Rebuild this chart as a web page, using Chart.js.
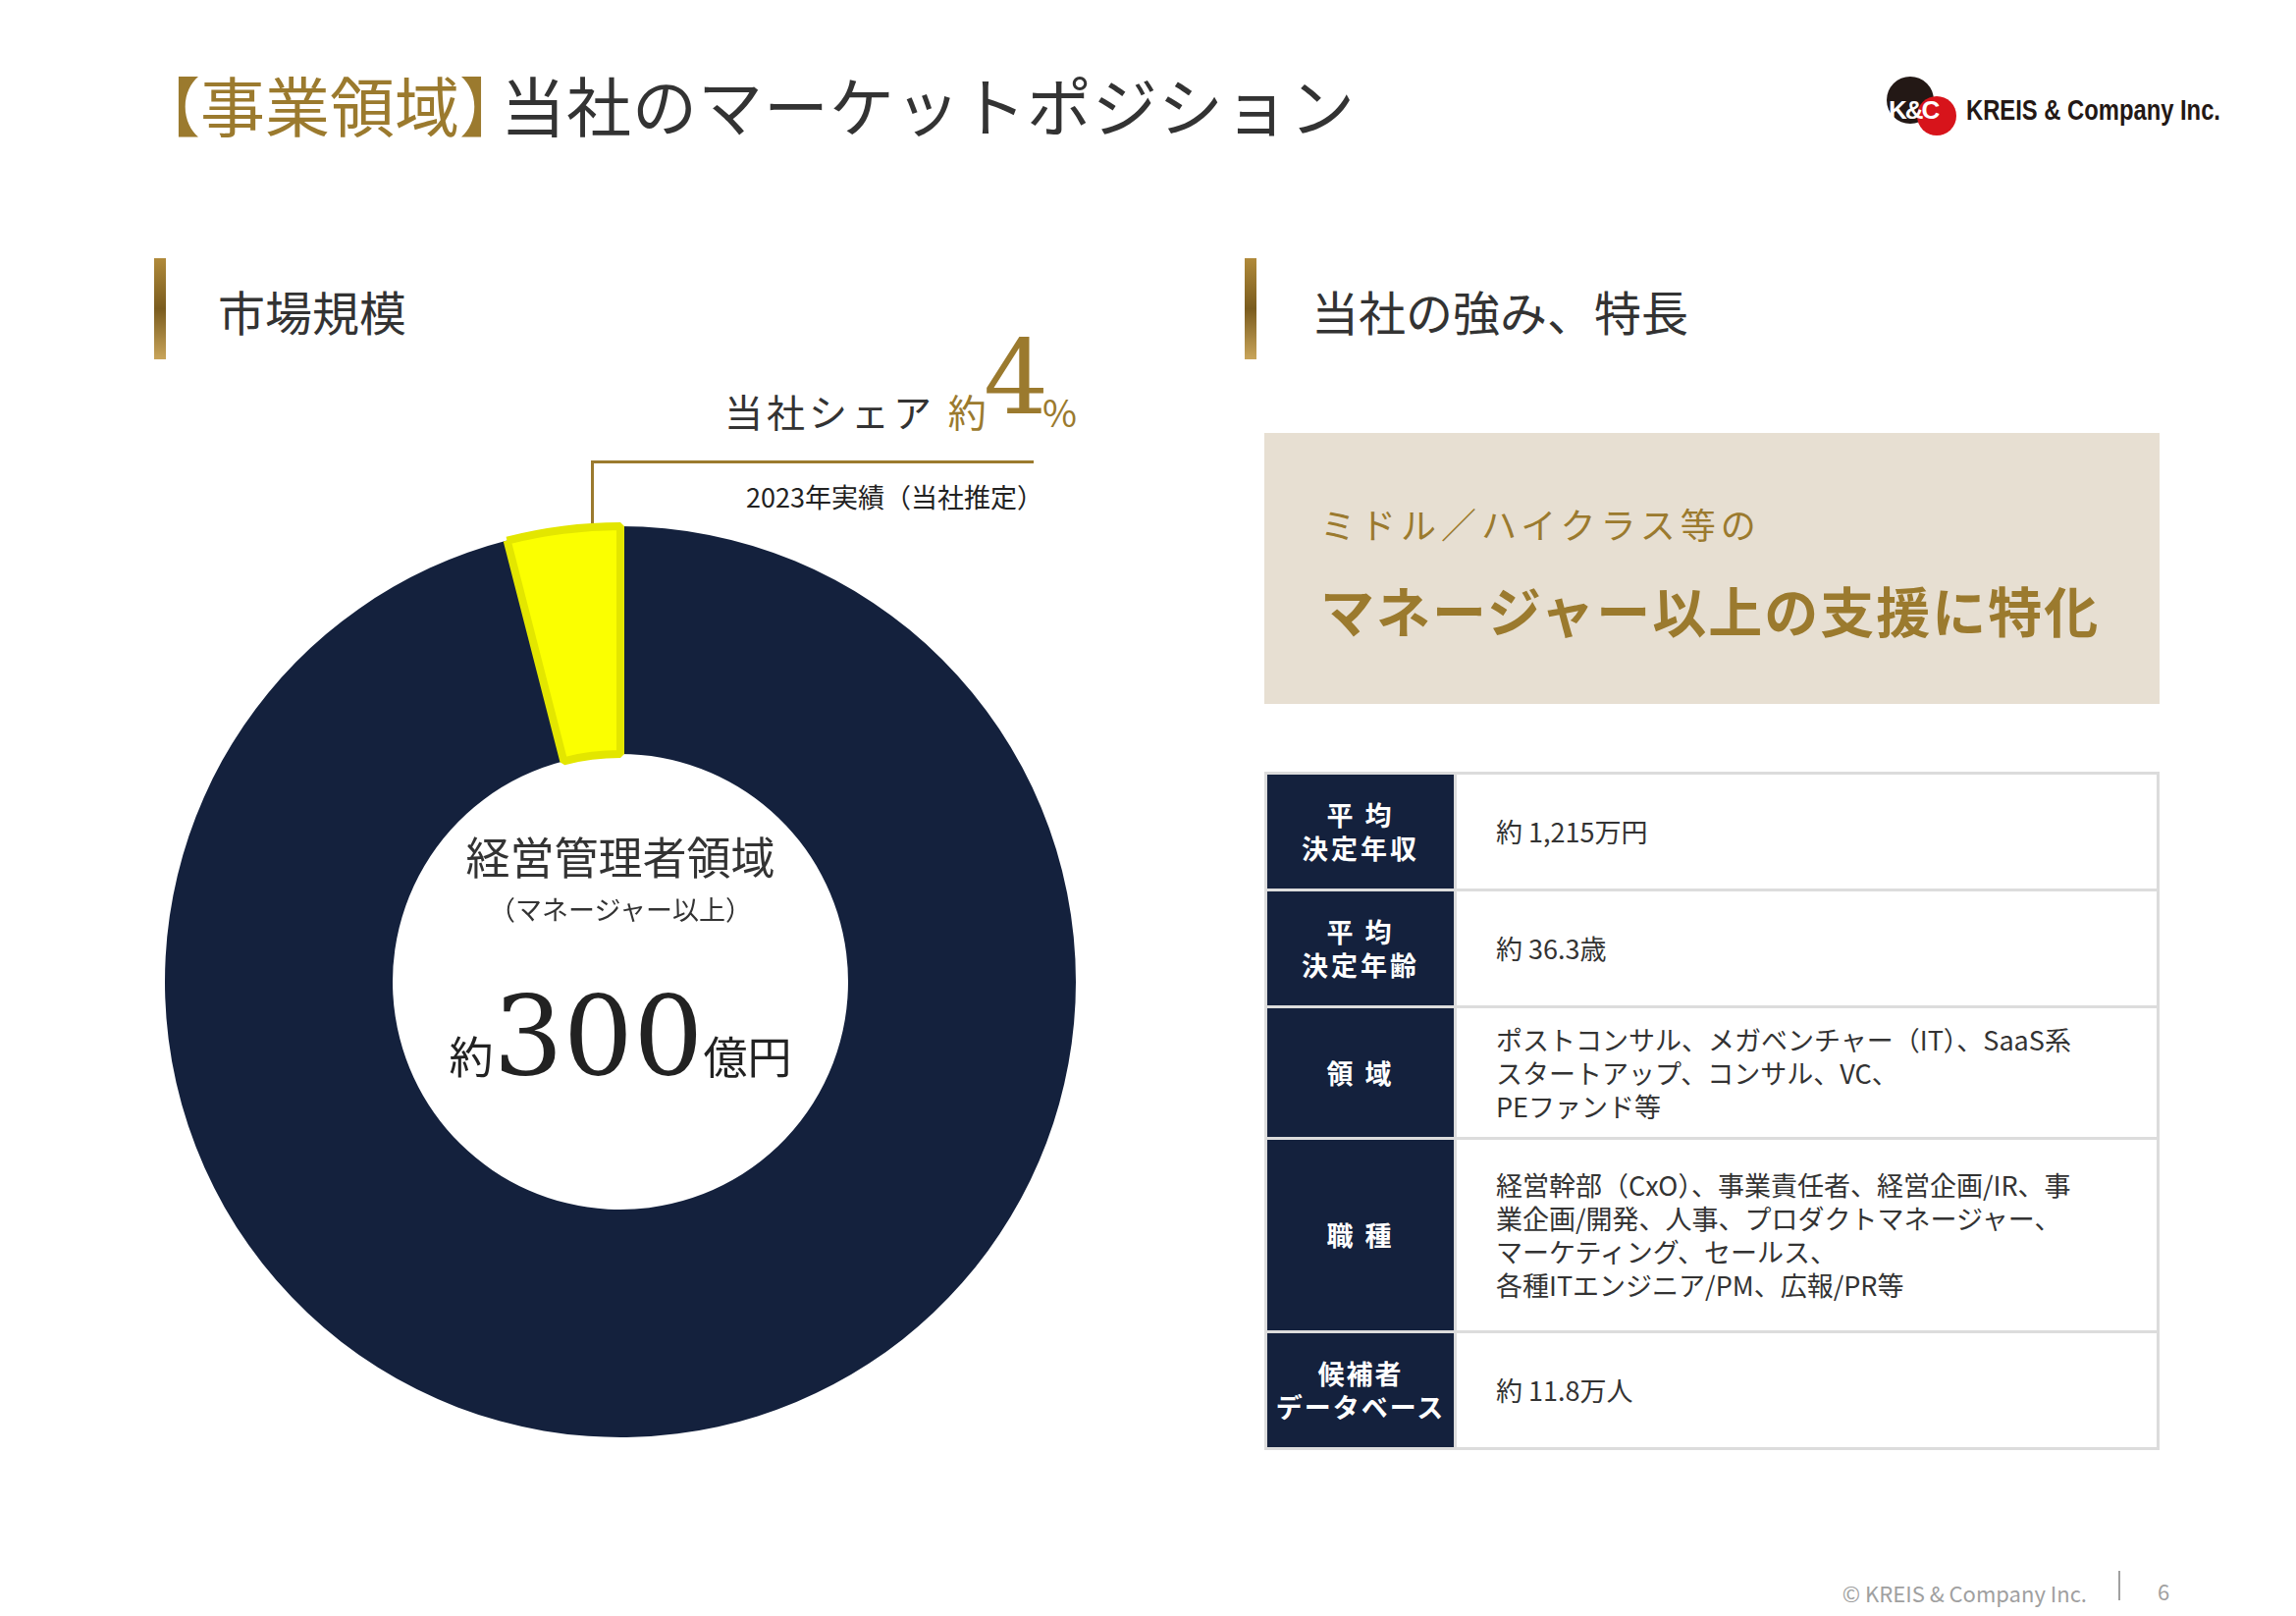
<!DOCTYPE html>
<html><head><meta charset="utf-8">
<script src="https://cdn.jsdelivr.net/npm/chart.js@4"></script>
<style>
body{margin:0;width:2339px;height:1646px;background:#fff;position:relative;overflow:hidden;font-family:"Noto Sans CJK JP","Noto Sans",sans-serif;color:#222}
.a{position:absolute;white-space:nowrap}
.gold{color:#9b7a2e}
.bar{position:absolute;width:12px;background:linear-gradient(#b08a3a,#7a5c1e,#c9a55a)}
table{position:absolute;left:1288px;top:786px;width:912px;border-collapse:collapse;}
td{border:3px solid #dcdcdc;font-size:27px;}
td.h{background:#14213d;color:#fff;width:188px;text-align:center;font-weight:700;letter-spacing:3px;line-height:34px}
td.v{padding-left:40px;line-height:34px;color:#333}
</style></head><body>
<div class="a gold" style="left:138px;top:60px;font-size:66px;line-height:90px">【事業領域】</div>
<div class="a" style="left:510px;top:60px;font-size:66px;line-height:90px;color:#333;letter-spacing:1px">当社のマーケットポジション</div>
<div class="a" style="left:1922px;top:78px;width:48px;height:48px;border-radius:50%;background:#231815"></div>
<div class="a" style="left:1953px;top:98px;width:40px;height:40px;border-radius:50%;background:#d7141b"></div>
<div class="a" style="left:1924px;top:97px;font:900 26px 'Liberation Sans';color:#fff;letter-spacing:-2px">K&amp;C</div>
<div class="a" style="left:2003px;top:96px;font:700 29px 'Liberation Sans Narrow','Liberation Sans';color:#231815;transform:scaleX(0.82);transform-origin:left">KREIS &amp; Company Inc.</div>

<div class="bar" style="left:157px;top:263px;height:103px"></div>
<div class="a" style="left:222px;top:284px;font-size:48px;line-height:64px;color:#333">市場規模</div>
<div class="bar" style="left:1268px;top:263px;height:103px"></div>
<div class="a" style="left:1336px;top:284px;font-size:48px;line-height:64px;color:#333">当社の強み、特長</div>

<div class="a" style="left:738px;top:390px;font-size:39px;line-height:56px;color:#333;letter-spacing:4px">当社シェア <span class="gold">約</span></div>
<div class="a gold" style="left:1002px;top:330px;font-size:104px;line-height:110px;font-family:'DejaVu Serif','Liberation Serif'">4</div>
<div class="a gold" style="left:1062px;top:394px;font-size:38px;line-height:50px">%</div>
<div class="a" style="left:602px;top:469px;width:448px;height:66px;border-left:3px solid #9b7a2e;border-top:3px solid #9b7a2e"></div>
<div class="a" style="left:760px;top:488px;font-size:27px;line-height:36px;color:#222">2023年実績（当社推定）</div>

<div class="a" style="left:164px;top:532px;width:936px;height:936px"><canvas id="c"></canvas></div>
<div class="a" style="left:432px;top:842px;width:400px;text-align:center;font-size:45px;line-height:60px;color:#333">経営管理者領域</div>
<div class="a" style="left:432px;top:906px;width:400px;text-align:center;font-size:27px;line-height:40px;color:#333">（マネージャー以上）</div>
<div class="a" style="left:432px;top:990px;width:400px;text-align:center;color:#222"><span style="font-size:45px">約</span><span style="font-size:112px;font-family:'DejaVu Serif','Liberation Serif';line-height:130px">300</span><span style="font-size:45px">億円</span></div>

<div class="a" style="left:1288px;top:441px;width:912px;height:276px;background:#e7dfd2"></div>
<div class="a gold" style="left:1345px;top:508px;font-size:36px;line-height:50px;letter-spacing:5px">ミドル／ハイクラス等の</div>
<div class="a gold" style="left:1345px;top:584px;font-size:55px;line-height:72px;letter-spacing:2px;font-weight:700">マネージャー以上の支援に特化</div>

<table>
<tr style="height:119px"><td class="h">平 均<br>決定年収</td><td class="v">約 1,215万円</td></tr>
<tr style="height:119px"><td class="h">平 均<br>決定年齢</td><td class="v">約 36.3歳</td></tr>
<tr style="height:134px"><td class="h">領 域</td><td class="v">ポストコンサル、メガベンチャー（IT）、SaaS系<br>スタートアップ、コンサル、VC、<br>PEファンド等</td></tr>
<tr style="height:197px"><td class="h">職 種</td><td class="v">経営幹部（CxO）、事業責任者、経営企画/IR、事<br>業企画/開発、人事、プロダクトマネージャー、<br>マーケティング、セールス、<br>各種ITエンジニア/PM、広報/PR等</td></tr>
<tr style="height:119px"><td class="h" style="letter-spacing:2px">候補者<br>データベース</td><td class="v">約 11.8万人</td></tr>
</table>

<div class="a" style="left:1850px;top:1606px;width:276px;text-align:right;font-size:22px;color:#a0a0a0">© KREIS &amp; Company Inc.</div>
<div class="a" style="left:2158px;top:1600px;width:2px;height:30px;background:#a0a0a0"></div>
<div class="a" style="left:2198px;top:1604px;font-size:22px;color:#a0a0a0">6</div>

<script>
const categories = ["その他", "当社シェア"];
const shareValues = [96, 4];
const sliceColors = ["#14213d", "#fbff00"];
const sliceBorders = ["#14213d", "#e3e600"];
new Chart(document.getElementById('c'), {
  type: 'doughnut',
  data: { labels: categories, datasets: [{ data: shareValues, backgroundColor: sliceColors, borderColor: sliceBorders, borderWidth: [0, 8] }] },
  options: { responsive: true, maintainAspectRatio: false, animation: false, cutout: '50%',
    plugins: { legend: { display: false }, tooltip: { enabled: false } }, layout: { padding: 0 } }
});
</script>
</body></html>
